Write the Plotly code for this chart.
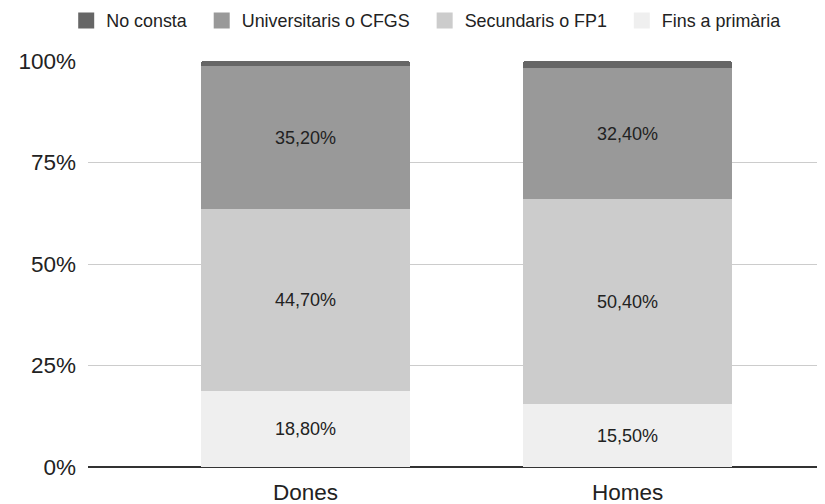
import plotly.graph_objects as go

categories = ["Dones", "Homes"]
series_names = ["Fins a primària", "Secundaris o FP1", "Universitaris o CFGS", "No consta"]
fins = [18.8, 15.5]
secundaris = [44.7, 50.4]
universitaris = [35.2, 32.4]
no_consta = [1.3, 1.7]
colors = ["#efefef", "#cccccc", "#999999", "#666666"]
y_ticks = [0, 25, 50, 75, 100]
y_tick_labels = ["0%", "25%", "50%", "75%", "100%"]

values = [fins, secundaris, universitaris, no_consta]
show_text = [True, True, True, False]
FONT = "Liberation Sans, Arial, sans-serif"

fig = go.Figure()
for name, vals, col, st in zip(series_names, values, colors, show_text):
    fig.add_trace(go.Bar(
        x=[0, 1], y=vals, name=name, marker_color=col, marker_line_width=0,
        width=0.649, showlegend=False,
        text=[f"{v:.2f}%".replace(".", ",") for v in vals] if st else None,
        textposition="inside", insidetextanchor="middle",
        textfont=dict(size=18, color="#222222", family=FONT),
        hoverinfo="skip",
    ))

# legend entries (square swatches)
for name, col in zip(series_names, colors):
    fig.add_trace(go.Scatter(
        x=[None], y=[None], mode="markers", name=name + "\u00a0\u00a0",
        marker=dict(symbol="square", size=16, color=col),
        hoverinfo="skip",
    ))

fig.update_layout(
    width=825, height=504,
    barmode="stack", barcornerradius=3,
    paper_bgcolor="white", plot_bgcolor="white",
    margin=dict(l=80, r=8, t=53, b=45, autoexpand=False),
    font=dict(family=FONT, color="#222222"),
    legend=dict(orientation="h", x=0.465, xanchor="center", y=1.099, yanchor="middle",
                yref="paper", traceorder="reversed",
                font=dict(size=17.9, color="#222222", family=FONT)),
    xaxis=dict(range=[-0.6755, 1.613], tickvals=[0, 1], ticktext=categories,
               tickfont=dict(size=22.5, color="#222222"), showgrid=False,
               showline=False, zeroline=False, ticks="", automargin=False,
               ticklabelstandoff=9),
    yaxis=dict(range=[0, 100], tickvals=y_ticks, ticktext=y_tick_labels,
               tickfont=dict(size=22.5, color="#222222"), showgrid=True,
               gridcolor="#cccccc", gridwidth=1, zeroline=True,
               zerolinecolor="#333333", zerolinewidth=1.5, ticks="",
               ticklabelstandoff=11, automargin=False),
)
fig.write_html("out.html")
